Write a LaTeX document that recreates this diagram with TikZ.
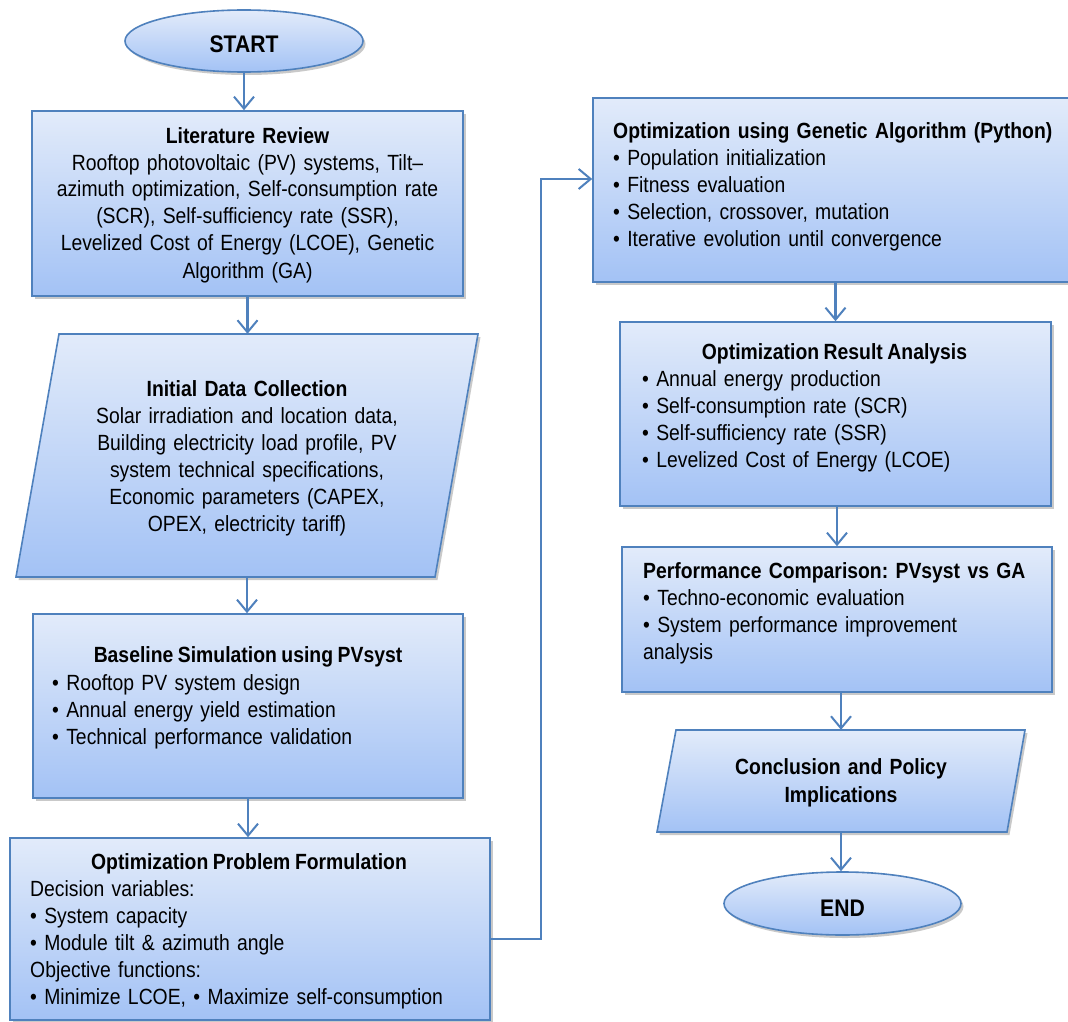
\documentclass[tikz,border=0pt]{standalone}
\usepackage{fontspec}
\setmainfont{Liberation Sans}[FakeStretch=0.88,WordSpace=0.85]
\usetikzlibrary{arrows.meta,shadows,shapes.geometric}
\definecolor{bord}{HTML}{4F81BD}
\definecolor{topc}{HTML}{E2EBFA}
\definecolor{botc}{HTML}{A3C2F5}
\frenchspacing
\tikzset{
  boxshape/.style={draw=bord,line width=1.6pt,top color=topc,bottom color=botc,
    drop shadow={shadow xshift=2.5pt,shadow yshift=-3pt,opacity=0.35,fill=black!60}},
  rbox/.style={boxshape,rectangle,inner sep=0pt},
  ebox/.style={boxshape,ellipse,inner sep=0pt},
  ghost/.style={rectangle,inner sep=0pt},
  arr/.style={draw=bord,line width=2.2pt,-{Straight Barb[length=12pt,width=20pt,line width=2pt]}},
  txt/.style={inner sep=0pt,font=\fontsize{22}{27}\selectfont\frenchspacing,anchor=base},
  txtl/.style={txt,anchor=base west,align=left,text width=480pt},
}
\begin{document}
\begin{tikzpicture}[x=1pt,y=-1pt]
\clip (0,0) rectangle (1068,1022);
\fill[white] (0,0) rectangle (1068,1022);
% terminals
\node[ebox,minimum width=238pt,minimum height=62pt] (start) at (244,41) {};
\node[txt,font=\fontsize{24}{28}\selectfont\bfseries] (starttxt) at (244,53) {START};
\node[ebox,minimum width=237pt,minimum height=63pt] (end) at (842.5,903.5) {};
\node[txt,font=\fontsize{24}{28}\selectfont\bfseries] (endtxt) at (842.5,916) {END};
% rectangles
\node[rbox,minimum width=431pt,minimum height=185pt] (lit) at (247.5,203.5) {};
\node[rbox,minimum width=430pt,minimum height=184pt] (base) at (248,706) {};
\node[rbox,minimum width=480pt,minimum height=182pt] (opf) at (250,929) {};
\node[rbox,minimum width=490pt,minimum height=184pt] (ga) at (838,190) {};
\node[rbox,minimum width=431pt,minimum height=184pt] (res) at (835.5,414) {};
\node[rbox,minimum width=430pt,minimum height=145pt] (perf) at (837,619.5) {};
% parallelograms
\node[ghost,minimum width=420pt,minimum height=243pt] (idc) at (247,455.5) {};
\path[boxshape] (59,334) -- (478,334) -- (435,577) -- (16,577) -- cycle;
\node[ghost,minimum width=330pt,minimum height=102pt] (concl) at (841,781) {};
\path[boxshape] (676,730) -- (1025,730) -- (1007,832) -- (657,832) -- cycle;
% texts
\node[txt,text width=440pt,align=center] (littxt) at (247.5,143)
 {\textbf{Literature Review}\\ Rooftop photovoltaic (PV) systems, Tilt–\\ azimuth optimization, Self-consumption rate\\ (SCR), Self-sufficiency rate (SSR),\\ Levelized Cost of Energy (LCOE), Genetic\\ Algorithm (GA)};
\node[txt,text width=420pt,align=center] (idctxt) at (247,396)
 {\textbf{Initial Data Collection}\\ Solar irradiation and location data,\\ Building electricity load profile, PV\\ system technical specifications,\\ Economic parameters (CAPEX,\\ OPEX, electricity tariff)};
\node[txt,font=\fontsize{22}{27}\selectfont\bfseries] (basetitle) at (248,662) {Baseline Simulation using PVsyst};
\node[txtl] (basetxt) at (52,690)
 {• Rooftop PV system design\\ • Annual energy yield estimation\\ • Technical performance validation};
\node[txt,font=\fontsize{22}{27}\selectfont\bfseries] (opftitle) at (249,869) {Optimization Problem Formulation};
\node[txtl] (opftxt) at (30,896)
 {Decision variables:\\ • System capacity\\ • Module tilt \& azimuth angle\\ Objective functions:\\ • Minimize LCOE, • Maximize self-consumption};
\node[txtl] (gatxt) at (613,139)
 {\textbf{Optimization using Genetic Algorithm (Python)}\\ • Population initialization\\ • Fitness evaluation\\ • Selection, crossover, mutation\\ • Iterative evolution until convergence};
\node[txt,font=\fontsize{22}{27}\selectfont\bfseries] (restitle) at (834.5,359) {Optimization Result Analysis};
\node[txtl] (restxt) at (642,386)
 {• Annual energy production\\ • Self-consumption rate (SCR)\\ • Self-sufficiency rate (SSR)\\ • Levelized Cost of Energy (LCOE)};
\node[txtl] (perftxt) at (643,578)
 {\textbf{Performance Comparison: PVsyst vs GA}\\ • Techno-economic evaluation\\ • System performance improvement\\ analysis};
\node[txt,text width=330pt,align=center,font=\fontsize{22}{28}\selectfont\bfseries] (concltxt) at (841,774)
 {Conclusion and Policy\\ Implications};
% connectors
\draw[arr] (start.south) -- (start.south |- lit.north);
\draw[arr] (lit.south) -- (lit.south |- idc.north);
\draw[arr] (idc.south) -- (idc.south |- base.north);
\draw[arr] (base.south) -- (base.south |- opf.north);
\draw[arr] ([yshift=-10pt]opf.east) -- ++(50,0) |- ([yshift=11pt]ga.west);
\draw[arr] (res.north |- ga.south) -- (res.north);
\draw[arr] (perf.north |- res.south) -- (perf.north);
\draw[arr] (concl.north |- perf.south) -- (concl.north);
\draw[arr] (concl.south) -- (concl.south |- end.north);
\end{tikzpicture}
\end{document}
